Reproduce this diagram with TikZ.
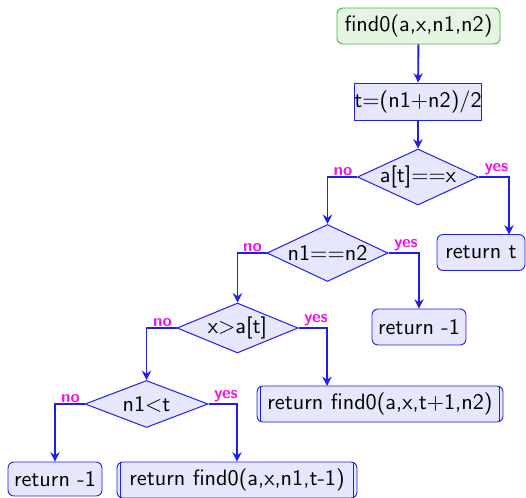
\documentclass[tikz,border=0pt]{standalone}
\usetikzlibrary{shapes.geometric,arrows.meta}
\definecolor{fillb}{RGB}{230,230,252}
\definecolor{lineb}{RGB}{30,30,240}
\definecolor{fillg}{RGB}{228,246,226}
\definecolor{lineg}{RGB}{50,195,50}
\definecolor{lab}{RGB}{240,20,230}
\def\s{0.45pt}
\begin{document}
\begin{tikzpicture}[x=0.45pt,y=-0.45pt,
  txt/.style={font=\fontsize{10}{12}\selectfont\sffamily},
  rbox/.style={txt,draw=lineb,line width=0.4pt,fill=fillb,rounded corners=6*\s,inner sep=0pt},
  sbox/.style={txt,draw=lineb,line width=0.4pt,fill=fillb,inner sep=0pt},
  gbox/.style={txt,draw=lineg,line width=0.4pt,fill=fillg,rounded corners=6*\s,inner sep=0pt},
  diam/.style={txt,diamond,draw=lineb,line width=0.45pt,fill=fillb,inner sep=0pt},
  arr/.style={draw=lineb,line width=0.85pt,-{Stealth[length=4.2pt,width=4.2pt,inset=1.4pt]}},
  lbl/.style={font=\fontsize{7.6}{9}\selectfont\sffamily\bfseries,text=lab,inner sep=0.5pt}
]
\useasboundingbox (0,0) rectangle (526,497);
\node[gbox,minimum width=163*\s,minimum height=36*\s] (start) at (418.5,26) {find0(a,x,n1,n2)};
\node[sbox,minimum width=126*\s,minimum height=37*\s] (t) at (418,101.5) {t=(n1+n2)/2};
\node[diam,minimum width=121*\s,minimum height=56*\s] (d1) at (418,177) {\makebox[0pt]{a[t]==x}};
\node[diam,minimum width=121*\s,minimum height=57*\s] (d2) at (327.5,253) {\makebox[0pt]{n1==n2}};
\node[diam,minimum width=121*\s,minimum height=50*\s] (d3) at (237.5,328) {\makebox[0pt]{x>a[t]}};
\node[diam,minimum width=123*\s,minimum height=47*\s] (d4) at (146.5,404) {\makebox[0pt]{n1<t}};
\node[rbox,minimum width=88*\s,minimum height=36*\s] (rt) at (481,252.5) {return t};
\node[rbox,minimum width=94*\s,minimum height=36*\s] (r1) at (419,327) {return -1};
\node[rbox,minimum width=246*\s,minimum height=36*\s] (r2) at (380,404) {return find0(a,x,t+1,n2)};
\node[rbox,minimum width=240*\s,minimum height=36*\s] (r3) at (237,480) {return find0(a,x,n1,t-1)};
\node[rbox,minimum width=94*\s,minimum height=34*\s] (rl) at (55,479) {return -1};
\foreach \n in {r2,r3}{
  \draw[draw=lineb,line width=0.4pt] ([xshift=4*\s]\n.north west) -- ([xshift=4*\s]\n.south west);
  \draw[draw=lineb,line width=0.4pt] ([xshift=-4*\s]\n.north east) -- ([xshift=-4*\s]\n.south east);
}
\coordinate (rtin) at (509,234.5);
\coordinate (r2in) at (327,386);
\draw[arr] (start) -- (t);
\draw[arr] (t) -- (d1);
\draw[arr] (d1.east) -| (rtin);
\draw[arr] (d1.west) -| (d2.north);
\draw[arr] (d2.east) -| (r1.north);
\draw[arr] (d2.west) -| (d3.north);
\draw[arr] (d3.east) -| (r2in);
\draw[arr] (d3.west) -| (d4.north);
\draw[arr] (d4.east) -| (r3.north);
\draw[arr] (d4.west) -| (rl.north);
\foreach \d in {d1,d2,d3,d4}{
  \node[lbl,anchor=south east] (\d no) at ([xshift=-3*\s]\d.west) {no};
  \node[lbl,anchor=south west] (\d yes) at ([xshift=4*\s]\d.east) {yes};
}
\end{tikzpicture}
\end{document}
